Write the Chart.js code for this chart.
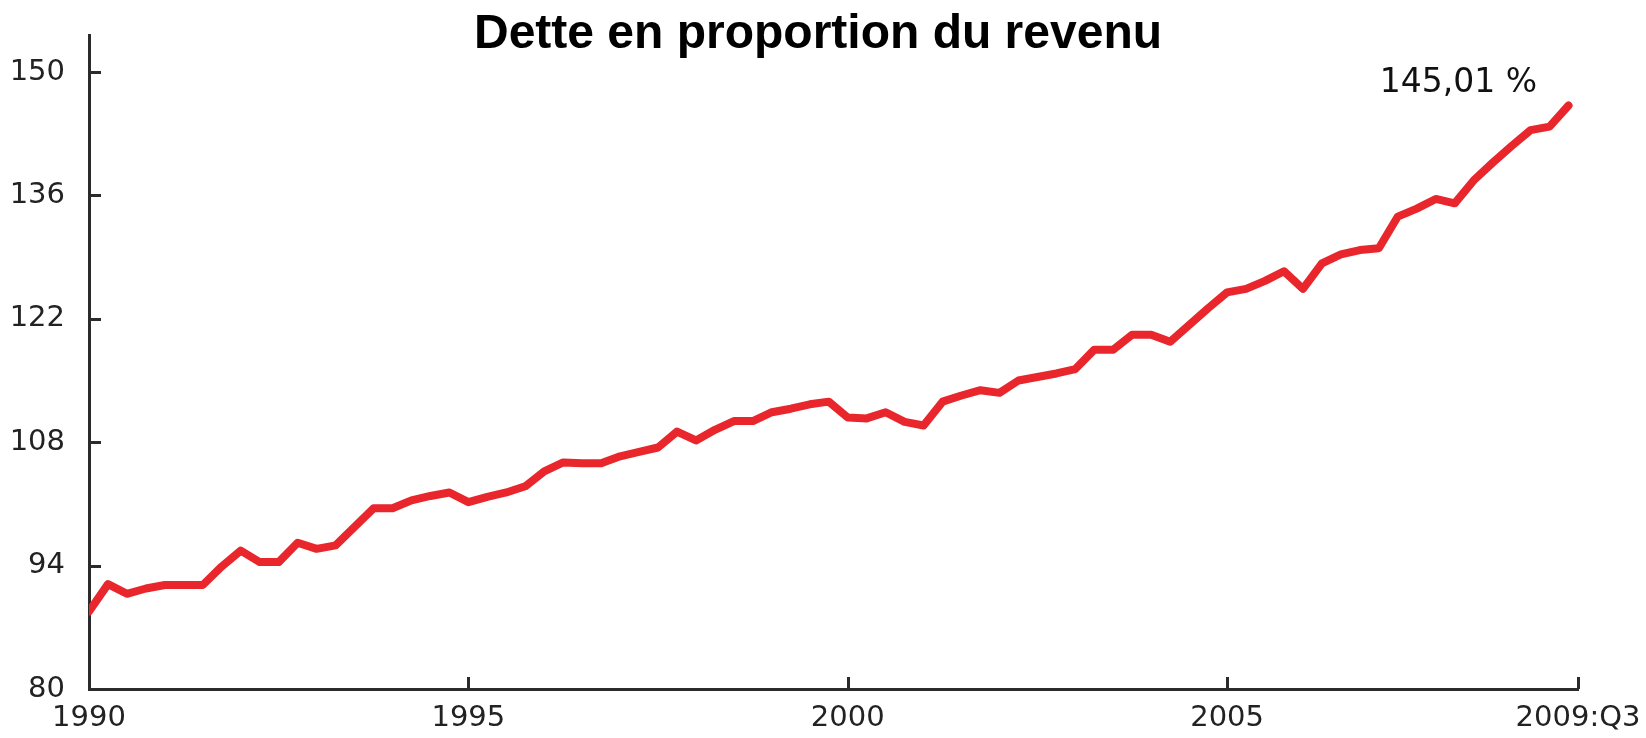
<!DOCTYPE html>
<html>
<head>
<meta charset="utf-8">
<title>Dette en proportion du revenu</title>
<script src="https://cdn.jsdelivr.net/npm/chart.js@4.4.1/dist/chart.umd.min.js"></script>
<style>
    html, body { margin: 0; padding: 0; background: #ffffff; }
    #wrap { width: 1646px; height: 738px; }
</style>
</head>
<body>
<div id="wrap"><canvas id="debtChart" width="1646" height="738"></canvas></div>
<script>
// Dette des ménages en % du revenu disponible, trimestriel 1990:Q1 -> 2009:Q3
const chartTitle = 'Dette en proportion du revenu';
const lastValueLabel = '145,01 %';
const startYear = 1990;

const debtRatio = [
    88.8, 91.9, 90.8, 91.4, 91.8, 91.8, 91.8, 93.9, 95.7, 94.4,
    94.4, 96.6, 95.9, 96.3, 98.4, 100.5, 100.5, 101.4, 101.9, 102.3,
    101.2, 101.8, 102.3, 103.0, 104.7, 105.7, 105.6, 105.6, 106.4, 106.9,
    107.4, 109.2, 108.2, 109.4, 110.4, 110.4, 111.4, 111.8, 112.3, 112.6,
    110.8, 110.7, 111.4, 110.3, 109.9, 112.6, 113.3, 113.9, 113.6, 115.0,
    115.4, 115.8, 116.3, 118.5, 118.5, 120.2, 120.2, 119.4, 121.3, 123.2,
    125.0, 125.4, 126.3, 127.4, 125.4, 128.3, 129.3, 129.8, 130.0, 133.6,
    134.5, 135.6, 135.1, 137.7, 139.7, 141.6, 143.4, 143.8, 146.2
];

// axis ticks (x in quarters since 1990:Q1)
const xTickPos = [0, 20, 40, 60, 78.5];
const xTickLabels = ['1990', '1995', '2000', '2005', '2009:Q3'];
const yTicks = [80, 94, 108, 122, 136, 150];

const axisColor = '#2b2b2b';
const lineColor = '#e8262c';

// quarter labels, only used for the points
const quarterLabels = debtRatio.map((v, i) => (startYear + Math.floor(i / 4)) + ':Q' + (i % 4 + 1));

/**
 * Inward tick marks, title and the end-of-line label
 */
const decorPlugin = {
    id: 'decor',
    afterDraw(chart) {
        const { ctx, chartArea, scales } = chart;
        const x = scales.x, y = scales.y;
        ctx.save();
        ctx.strokeStyle = axisColor;
        ctx.lineWidth = 3;
        ctx.beginPath();
        yTicks.slice(1).forEach(v => {
            const py = Math.round(y.getPixelForValue(v)) + 0.5;
            ctx.moveTo(chartArea.left, py);
            ctx.lineTo(chartArea.left + 12, py);
        });
        xTickPos.slice(1).forEach(v => {
            const px = Math.round(x.getPixelForValue(v)) + 0.5;
            ctx.moveTo(px, chartArea.bottom);
            ctx.lineTo(px, chartArea.bottom - 12);
        });
        ctx.stroke();

        ctx.fillStyle = '#000000';
        ctx.textAlign = 'center';
        ctx.textBaseline = 'alphabetic';
        ctx.font = 'bold 48px "Liberation Sans", Arial, sans-serif';
        ctx.fillText(chartTitle, 818, 48);

        const meta = chart.getDatasetMeta(0);
        const last = meta.data[meta.data.length - 1];
        ctx.fillStyle = '#111111';
        ctx.font = '33px "DejaVu Sans", Verdana, sans-serif';
        ctx.fillText(lastValueLabel, last.x - 110, last.y - 14);
        ctx.restore();
    }
};

const tickFont = { family: '"DejaVu Sans", Verdana, sans-serif', size: 29 };

new Chart(document.getElementById('debtChart'), {
    type: 'line',
    data: {
        datasets: [{
            label: chartTitle,
            data: debtRatio.map((v, i) => ({ x: i, y: v, q: quarterLabels[i] })),
            borderColor: lineColor,
            borderWidth: 8,
            borderCapStyle: 'round',
            borderJoinStyle: 'round',
            pointRadius: 0,
            tension: 0,
            fill: false
        }]
    },
    options: {
        responsive: false,
        animation: false,
        devicePixelRatio: 1,
        layout: { padding: { left: 10, right: 68, top: 35, bottom: 0 } },
        plugins: {
            legend: { display: false },
            tooltip: { enabled: false },
            title: { display: false }
        },
        scales: {
            x: {
                type: 'linear',
                min: 0,
                max: 78.5,
                afterBuildTicks: scale => { scale.ticks = xTickPos.map(v => ({ value: v })); },
                afterFit: scale => {
                    scale.height = 49;
                    scale.paddingLeft = 0;
                    scale.paddingRight = 0;
                },
                ticks: {
                    font: tickFont,
                    color: '#222222',
                    padding: 12,
                    maxRotation: 0,
                    autoSkip: false,
                    callback: value => xTickLabels[xTickPos.indexOf(value)]
                },
                grid: { display: false, drawTicks: false },
                border: { display: true, color: axisColor, width: 3 }
            },
            y: {
                min: 80,
                max: 154.2,
                afterBuildTicks: scale => { scale.ticks = yTicks.map(v => ({ value: v })); },
                afterFit: scale => {
                    scale.width = 79;
                    scale.paddingTop = 0;
                    scale.paddingBottom = 0;
                },
                ticks: {
                    font: tickFont,
                    color: '#222222',
                    padding: 24
                },
                grid: { display: false, drawTicks: false },
                border: { display: true, color: axisColor, width: 3 }
            }
        }
    },
    plugins: [decorPlugin]
});
</script>
</body>
</html>
